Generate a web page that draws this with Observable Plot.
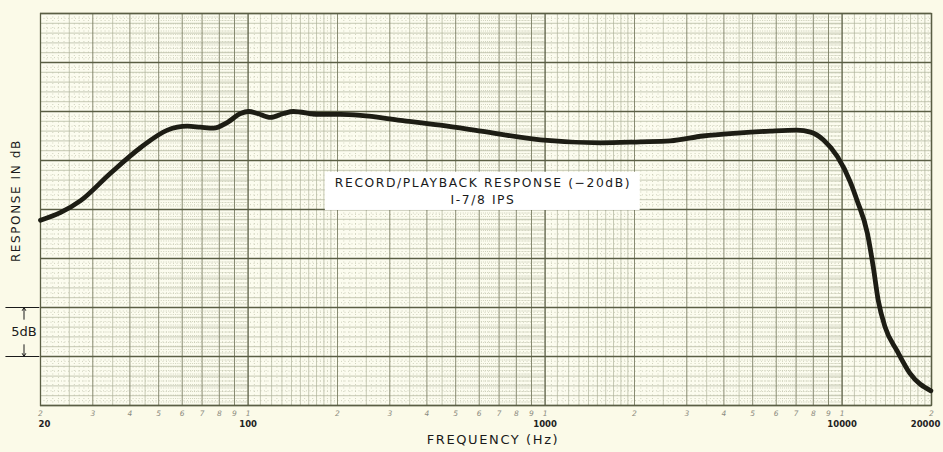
<!DOCTYPE html>
<html>
<head>
<meta charset="utf-8">
<script src="https://cdn.jsdelivr.net/npm/d3@7"></script>
<script src="https://cdn.jsdelivr.net/npm/@observablehq/plot@0.6"></script>
<style>
  html, body { margin: 0; padding: 0; background: #fbfae8; }
  #chart { width: 943px; height: 452px; overflow: hidden; }
  .spaced text { letter-spacing: 1.6px; }
  .digits text { font-style: italic; }
</style>
</head>
<body>
<div id="chart"></div>
<script>
// Frequency response (Hz, relative dB on a 0–40 dB sheet)
const freq = [20, 23.4, 27.3, 34.4, 43.4, 53.5, 62.4, 69.1, 76.4, 85.3, 94.3, 100.4, 107.5, 119, 131.7, 142, 172, 205, 239, 326, 444, 608, 966, 1536, 2090, 2640, 3400, 4440, 5720, 7040, 7830, 8660, 9640, 10660, 11240, 12160, 12740, 13240, 13960, 15300, 16900, 19900];
const response = [18.9, 19.7, 20.9, 23.7, 26.3, 28.1, 28.5, 28.4, 28.3, 28.9, 29.8, 30.0, 29.8, 29.4, 29.8, 30.0, 29.7, 29.7, 29.6, 29.1, 28.6, 28.0, 27.1, 26.8, 26.9, 27.0, 27.5, 27.8, 28.0, 28.1, 27.9, 27.1, 25.4, 22.8, 20.9, 17.6, 14.1, 10.7, 8.0, 5.6, 3.3, 1.5];

// Axis labels
const decadeTicks = [100, 1000, 10000];
const decadeLabels = ["100", "1000", "10000"];
const firstTick = [20];
const firstLabel = ["20"];
const lastTick = [20000];
const lastLabel = ["20000"];
const digitTicks = [20, 30, 40, 50, 60, 70, 80, 90, 100, 200, 300, 400, 500, 600, 700, 800, 900, 1000, 2000, 3000, 4000, 5000, 6000, 7000, 8000, 9000, 10000, 20000];
const digitLabels = ["2","3","4","5","6","7","8","9","1","2","3","4","5","6","7","8","9","1","2","3","4","5","6","7","8","9","1","2"];

const xTitle = "FREQUENCY (Hz)";
const yTitle = "RESPONSE IN dB";
const noteLines = ["RECORD/PLAYBACK RESPONSE (−20dB)", "I-7/8 IPS"];
const noteLevels = [22.7, 20.95];

const data = freq.map((f, i) => ({f, r: response[i]}));

// Graph-paper grid positions
const decades = [10, 100, 1000, 10000];
const inRange = v => v >= 20 && v <= 20000;
const xMajor = decades.map(d => d * 10).filter(inRange).concat([20000]);
const xMid = decades.flatMap(d => d3.range(2, 10).map(k => d * k)).filter(inRange);
const xLight = decades.flatMap(d => [...d3.range(1.1, 1.95, 0.1), 2.5, 3.5, 4.5].map(k => d * k)).filter(inRange);
const xFine = decades.flatMap(d => [
  ...d3.range(1.05, 2, 0.1),
  ...d3.range(2.1, 5, 0.1).filter(k => Math.abs(k*2 - Math.round(k*2)) > 0.01),
  ...d3.range(5.1, 10, 0.1).filter(k => Math.abs(k - Math.round(k)) > 0.01)
].map(k => d * k)).filter(inRange);
const yMajor = d3.range(0, 40.1, 5);
const yLight = d3.range(0, 40.1, 1).filter(v => v % 5 !== 0);
const yFine = d3.range(0.5, 40, 1);

const ink = "#1a1a1a";
const chart = Plot.plot({
  width: 943,
  height: 452,
  marginLeft: 40,
  marginRight: 12,
  marginTop: 13,
  marginBottom: 47,
  style: {background: "#fbfae8", fontFamily: "'DejaVu Sans', sans-serif", overflow: "visible"},
  x: {type: "log", domain: [20, 20000], axis: null},
  y: {domain: [0, 40], axis: null},
  marks: [
    Plot.rect([0], {x1: 20, x2: 20000, y1: 0, y2: 40, fill: "#fcfcef"}),
    Plot.ruleX(xFine, {stroke: "#b4b79e", strokeWidth: 0.6, strokeDasharray: "1,2.5"}),
    Plot.ruleY(yFine, {stroke: "#b4b79e", strokeWidth: 0.6, strokeDasharray: "1,2.5"}),
    Plot.ruleX(xLight, {stroke: "#aeb199", strokeWidth: 0.7}),
    Plot.ruleY(yLight, {stroke: "#aeb199", strokeWidth: 0.7}),
    Plot.ruleX(xMid, {stroke: "#7a7e63", strokeWidth: 0.9}),
    Plot.ruleX(xMajor, {stroke: "#5a5e44", strokeWidth: 1.3}),
    Plot.ruleY(yMajor, {stroke: "#5a5e44", strokeWidth: 1.3}),
    Plot.frame({stroke: "#5a5e44", strokeWidth: 1.3}),
    // annotation box and text
    Plot.rect([0], {x1: 182, x2: 2090, y1: 19.9, y2: 23.8, fill: "#ffffff"}),
    Plot.text(noteLines, {x: 618, y: (d, i) => noteLevels[i], text: d => d, fontSize: 12.3, fill: ink, className: "spaced"}),
    // response curve
    Plot.line(data, {x: "f", y: "r", curve: "monotone-x", stroke: "#1d1d14", strokeWidth: 4.8, strokeLinecap: "round", strokeLinejoin: "round"}),
    // x axis labels
    Plot.text(digitTicks, {x: d => d, y: 0, text: (d, i) => digitLabels[i], dy: 8, fontSize: 7.5, fill: "#8b8b80", className: "digits"}),
    Plot.text(decadeTicks, {x: d => d, y: 0, text: (d, i) => decadeLabels[i], dy: 18.5, fontSize: 8.5, fontWeight: "bold", fill: "#222"}),
    Plot.text(firstTick, {x: d => d, y: 0, text: (d, i) => firstLabel[i], dy: 18.5, dx: 4, fontSize: 8.5, fontWeight: "bold", fill: "#222"}),
    Plot.text(lastTick, {x: d => d, y: 0, text: (d, i) => lastLabel[i], dy: 18.5, dx: -6, fontSize: 8.5, fontWeight: "bold", fill: "#222"}),
    Plot.text([xTitle], {frameAnchor: "bottom", textAnchor: "middle", dy: 38, dx: 7, text: d => d, fontSize: 13, fill: ink, className: "spaced"}),
    // y axis title
    Plot.text([yTitle], {frameAnchor: "left", textAnchor: "middle", y: 20.9, dx: -24, rotate: -90, text: d => d, fontSize: 12, fill: ink, className: "spaced"}),
    // 5 dB scale marker
    Plot.ruleY([10, 5], {x1: 15.3, x2: 19.9, stroke: ink, strokeWidth: 1}),
    Plot.arrow([0], {x1: 17.6, x2: 17.6, y1: 8.8, y2: 10, stroke: ink, strokeWidth: 1, headLength: 5}),
    Plot.arrow([0], {x1: 17.6, x2: 17.6, y1: 6.2, y2: 5, stroke: ink, strokeWidth: 1, headLength: 5}),
    Plot.text(["5dB"], {x: 17.6, y: 7.5, text: d => d, fontSize: 13, fill: ink})
  ]
});
document.getElementById("chart").appendChild(chart);
</script>
</body>
</html>
